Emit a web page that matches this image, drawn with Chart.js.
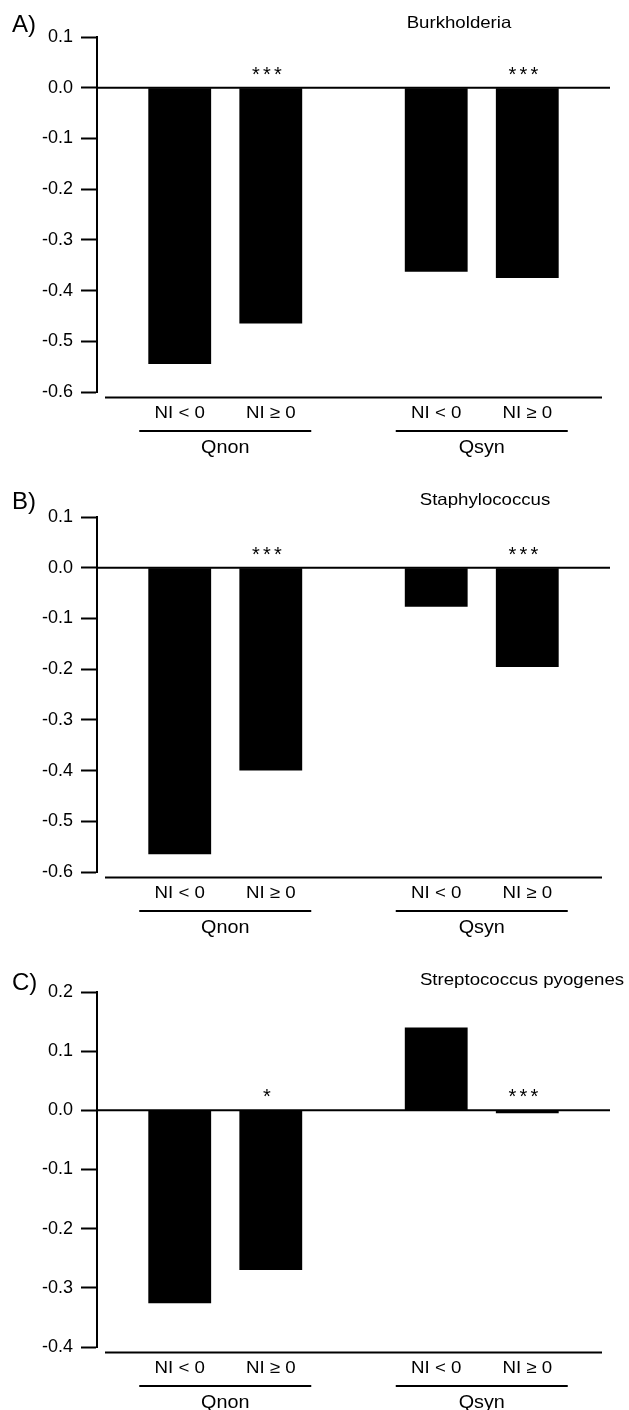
<!DOCTYPE html>
<html>
<head>
<meta charset="utf-8">
<script src="https://cdn.jsdelivr.net/npm/chart.js@4"></script>
<style>
  body { margin: 0; background: #fff; }
  .panel { position: absolute; left: 0; width: 629px; height: 470px; }
</style>
</head>
<body>
<div class="panel" style="top:0px"><canvas id="chartA"></canvas></div>
<div class="panel" style="top:480px"><canvas id="chartB"></canvas></div>
<div class="panel" style="top:955px"><canvas id="chartC"></canvas></div>
<script>
// categories and series
const groups = ['Qnon', 'Qsyn'];
const niLabels = ['NI < 0', 'NI \u2265 0'];

const burkLt = [-0.545, -0.363];
const burkGe = [-0.465, -0.375];
const staphLt = [-0.565, -0.077];
const staphGe = [-0.400, -0.196];
const strepLt = [-0.326, 0.140];
const strepGe = [-0.270, -0.005];

// significance marks over the NI >= 0 bars
const burkStars = ['***', '***'];
const staphStars = ['***', '***'];
const strepStars = ['*', '***'];

// y tick range [min, max]
const burkTicks = [-0.6, 0.1];
const staphTicks = [-0.6, 0.1];
const strepTicks = [-0.4, 0.2];

const FONT = '"Liberation Sans", Arial, sans-serif';

// the figure text is a bit wider than plain Arial
function wideText(ctx, text, x, y, sx) {
    ctx.save();
    ctx.translate(x, y);
    ctx.scale(sx, 1);
    ctx.fillText(text, 0, 0);
    ctx.restore();
}

function decorPlugin(letter, title, titleX, titleY, letterY, stars) {
    return {
        id: 'decor',
        beforeDatasetsDraw(chart) {
            const ctx = chart.ctx, a = chart.chartArea;
            const y0 = chart.scales.y.getPixelForValue(0);
            ctx.save();
            ctx.strokeStyle = '#000';
            ctx.lineWidth = 2;
            ctx.beginPath();
            ctx.moveTo(a.left, y0);
            ctx.lineTo(a.right, y0);
            ctx.stroke();
            ctx.restore();
        },
        afterDraw(chart) {
            const ctx = chart.ctx, a = chart.chartArea;
            const xs = chart.scales.x, ys = chart.scales.y;
            const y0 = ys.getPixelForValue(0);
            ctx.save();
            ctx.fillStyle = '#000';
            ctx.strokeStyle = '#000';
            ctx.lineWidth = 2;
            // long line under the plot
            ctx.beginPath();
            ctx.moveTo(a.left + 8, a.bottom + 5.5);
            ctx.lineTo(a.right - 8, a.bottom + 5.5);
            ctx.stroke();
            ctx.textAlign = 'center';
            ctx.textBaseline = 'alphabetic';
            // NI labels under each bar
            ctx.font = '17px ' + FONT;
            chart.data.datasets.forEach((ds, i) => {
                chart.getDatasetMeta(i).data.forEach(bar => {
                    wideText(ctx, ds.label, bar.x, a.bottom + 26, 1.1);
                });
            });
            // group lines and labels
            groups.forEach((g, j) => {
                const cx = xs.getPixelForValue(j);
                ctx.beginPath();
                ctx.moveTo(cx - 86, a.bottom + 39);
                ctx.lineTo(cx + 86, a.bottom + 39);
                ctx.stroke();
                ctx.font = '18px ' + FONT;
                wideText(ctx, g, cx, a.bottom + 61, 1.1);
            });
            // stars, drawn one by one with some spacing
            ctx.font = '20px ' + FONT;
            chart.getDatasetMeta(1).data.forEach((bar, j) => {
                const s = stars[j] || '';
                const n = s.length;
                for (let k = 0; k < n; k++) {
                    const sx = bar.x - 4 + (k - (n - 1) / 2) * 11;
                    ctx.fillText('*', sx, y0 - 7);
                }
            });
            // title and panel letter
            ctx.font = '16.5px ' + FONT;
            wideText(ctx, title, titleX, titleY, 1.13);
            ctx.textAlign = 'left';
            ctx.font = '24px ' + FONT;
            ctx.fillText(letter, 12, letterY);
            ctx.restore();
        }
    };
}

function makePanel(id, lt, ge, ticks, stars, letter, title, titleX, titleY, letterY) {
    new Chart(document.getElementById(id), {
        type: 'bar',
        data: {
            labels: groups,
            datasets: [
                { label: niLabels[0], data: lt, backgroundColor: '#000', borderWidth: 0 },
                { label: niLabels[1], data: ge, backgroundColor: '#000', borderWidth: 0 }
            ]
        },
        options: {
            responsive: true,
            maintainAspectRatio: false,
            animation: false,
            datasets: { bar: { barPercentage: 0.69, categoryPercentage: 0.71 } },
            layout: { padding: { top: 37, bottom: 78, left: 0, right: 19 } },
            plugins: { legend: { display: false }, tooltip: { enabled: false } },
            scales: {
                x: { display: false },
                y: {
                    min: ticks[0],
                    max: ticks[1],
                    ticks: {
                        stepSize: 0.1,
                        color: '#000',
                        padding: 8,
                        font: { family: FONT, size: 18 },
                        callback: v => (Math.abs(v) < 1e-9 ? 0 : v).toFixed(1)
                    },
                    grid: { drawOnChartArea: false, tickLength: 16, tickWidth: 2, tickColor: '#000' },
                    border: { display: true, color: '#000', width: 2 },
                    afterFit: s => { s.width = 97; }
                }
            }
        },
        plugins: [decorPlugin(letter, title, titleX, titleY, letterY, stars)]
    });
}

makePanel('chartA', burkLt, burkGe, burkTicks, burkStars, 'A)', 'Burkholderia', 459, 28, 32);
makePanel('chartB', staphLt, staphGe, staphTicks, staphStars, 'B)', 'Staphylococcus', 485, 25, 29);
makePanel('chartC', strepLt, strepGe, strepTicks, strepStars, 'C)', 'Streptococcus pyogenes', 522, 30, 35);
</script>
</body>
</html>
